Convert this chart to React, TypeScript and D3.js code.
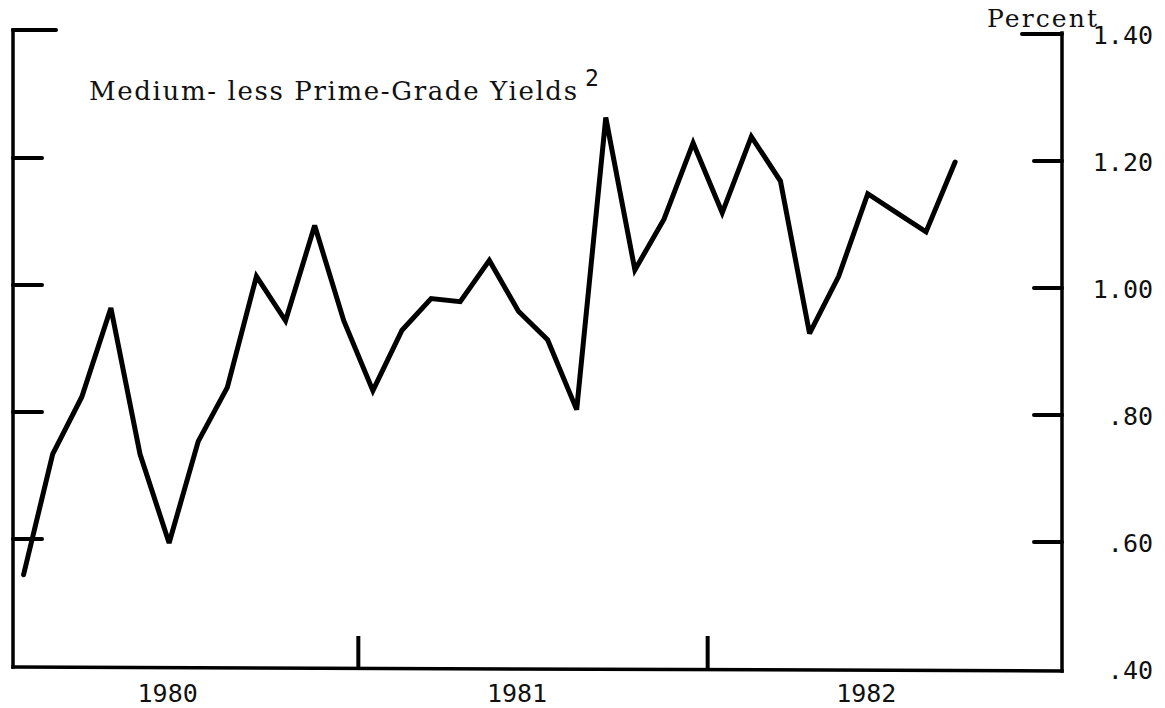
import React from "react";
import * as d3 from "d3";

// Monthly spread, Jan 1980 – Sep 1982 (percent)
const values1980: number[] = [0.55, 0.74, 0.83, 0.97, 0.74, 0.6, 0.76, 0.845, 1.02, 0.95, 1.1, 0.95];
const values1981: number[] = [0.84, 0.935, 0.985, 0.98, 1.045, 0.965, 0.92, 0.81, 1.27, 1.03, 1.11, 1.23];
const values1982: number[] = [1.12, 1.24, 1.17, 0.93, 1.02, 1.15, 1.12, 1.09, 1.2];
const years: string[] = ["1980", "1981", "1982"];
const yTicks: number[] = [0.4, 0.6, 0.8, 1.0, 1.2, 1.4];
const yTickLabels: string[] = [".40", ".60", ".80", "1.00", "1.20", "1.40"];
const title = "Medium- less Prime-Grade Yields";
const unitLabel = "Percent";

const W = 1165;
const H = 708;

export default function App() {
  const series = [...values1980, ...values1981, ...values1982];
  const x = d3.scaleLinear().domain([0, 36]).range([9, 1057]);
  const y = d3.scaleLinear().domain([0.4, 1.4]).range([670, 35]);
  const line = d3
    .line<number>()
    .x((_, i) => x(i + 0.5))
    .y((d) => y(d));

  const leftX = 13;
  const rightX = 1062;
  const bottomY = y(0.4);
  const topY = y(1.4);
  const mono = "'DejaVu Sans Mono', monospace";
  const typewriter = "'DejaVu Serif', 'Liberation Serif', serif";

  return (
    <svg
      width={W}
      height={H}
      viewBox={`0 0 ${W} ${H}`}
      style={{ position: "absolute", left: 0, top: 0, background: "#fff" }}
    >
      <rect x={0} y={0} width={W} height={H} fill="#fff" />
      {/* frame */}
      <g stroke="#000" strokeWidth={3.5} fill="none" strokeLinecap="square">
        <line x1={leftX} y1={topY - 5} x2={leftX} y2={bottomY - 3} />
        <line x1={leftX} y1={bottomY - 3} x2={rightX} y2={bottomY + 1} />
        <line x1={rightX} y1={topY - 2} x2={rightX} y2={bottomY + 1} />
      </g>
      {/* ticks */}
      <g stroke="#000" strokeWidth={4} strokeLinecap="round">
        {yTicks.slice(1).map((t, i) => (
          <line
            key={"l" + i}
            x1={leftX}
            x2={t === 1.4 ? leftX + 43 : leftX + 29}
            y1={t === 1.4 ? y(t) - 5 : y(t) - 4}
            y2={t === 1.4 ? y(t) - 5 : y(t) - 4}
          />
        ))}
        {yTicks.slice(1).map((t, i) => (
          <line
            key={"r" + i}
            x1={rightX}
            x2={t === 1.4 ? rightX - 40 : rightX - 28}
            y1={y(t) - 1}
            y2={y(t) - 1}
          />
        ))}
        {[12, 24].map((m) => (
          <line key={"x" + m} x1={x(m)} x2={x(m)} y1={bottomY - 1} y2={bottomY - 34} strokeLinecap="butt" />
        ))}
      </g>
      {/* right tick labels */}
      <g fontFamily={mono} fontSize={25} fill="#111" textAnchor="end">
        {yTicks.map((t, i) => (
          <text key={"t" + i} x={1153} y={y(t) + 9}>
            {yTickLabels[i]}
          </text>
        ))}
      </g>
      {/* year labels */}
      <g fontFamily={mono} fontSize={25} fill="#111" textAnchor="middle">
        {years.map((yr, i) => (
          <text key={yr} x={x(i * 12 + 6) - 16} y={702}>
            {yr}
          </text>
        ))}
      </g>
      {/* data line */}
      <path
        d={line(series) || ""}
        fill="none"
        stroke="#000"
        strokeWidth={5}
        strokeLinejoin="miter"
        strokeMiterlimit={3}
        strokeLinecap="round"
      />
      {/* titles */}
      <text
        x={89}
        y={100}
        fontFamily={typewriter}
        fontSize={26}
        textLength={488}
        lengthAdjust="spacing"
        fill="#111"
      >
        {title}
      </text>
      <text x={585} y={86} fontFamily={mono} fontSize={23} fill="#111">
        2
      </text>
      <text
        x={987}
        y={27}
        fontFamily={typewriter}
        fontSize={25}
        textLength={110}
        lengthAdjust="spacing"
        fill="#111"
      >
        {unitLabel}
      </text>
    </svg>
  );
}
